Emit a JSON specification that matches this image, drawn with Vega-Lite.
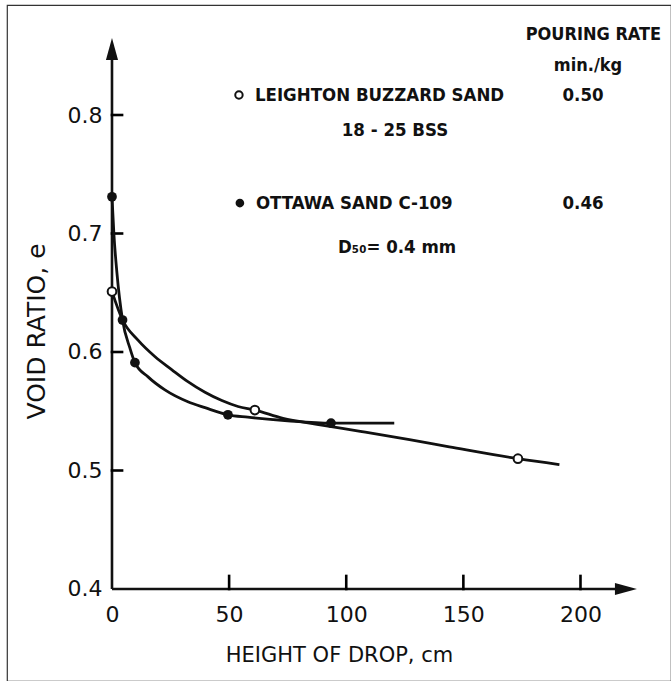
{
  "$schema": "https://vega.github.io/schema/vega-lite/v6.json",
  "width": 664,
  "height": 676,
  "autosize": "none",
  "padding": {"left": 7, "top": 5, "right": 0, "bottom": 0},
  "background": "white",
  "config": {
    "view": {"stroke": "#333333", "strokeWidth": 1.2},
    "font": "DejaVu Sans"
  },
  "datasets": {
    "axes": [
      {"height": 0, "e": 0.4, "height2": 0, "e2": 0.8557},
      {"height": 0, "e": 0.4, "height2": 219.4, "e2": 0.4}
    ],
    "ticks": [
      {"height": 50, "e": 0.4, "height2": 50, "e2": 0.411},
      {"height": 100, "e": 0.4, "height2": 100, "e2": 0.411},
      {"height": 150, "e": 0.4, "height2": 150, "e2": 0.411},
      {"height": 200, "e": 0.4, "height2": 200, "e2": 0.411},
      {"height": 0, "e": 0.5, "height2": 4.3, "e2": 0.5},
      {"height": 0, "e": 0.6, "height2": 4.3, "e2": 0.6},
      {"height": 0, "e": 0.7, "height2": 4.3, "e2": 0.7},
      {"height": 0, "e": 0.8, "height2": 4.3, "e2": 0.8}
    ],
    "arrows": [
      {"height": 0, "e": 0.8557, "dir": "up"},
      {"height": 219.4, "e": 0.4, "dir": "right"}
    ],
    "curves": [
      {"series": "Ottawa", "height": 0, "e": 0.731},
      {"series": "Ottawa", "height": 0.8, "e": 0.7},
      {"series": "Ottawa", "height": 2.1, "e": 0.667},
      {"series": "Ottawa", "height": 4.5, "e": 0.627},
      {"series": "Ottawa", "height": 7.7, "e": 0.603},
      {"series": "Ottawa", "height": 9.8, "e": 0.591},
      {"series": "Ottawa", "height": 15.4, "e": 0.579},
      {"series": "Ottawa", "height": 22.6, "e": 0.568},
      {"series": "Ottawa", "height": 32.4, "e": 0.558},
      {"series": "Ottawa", "height": 39.7, "e": 0.553},
      {"series": "Ottawa", "height": 49.5, "e": 0.547},
      {"series": "Ottawa", "height": 58, "e": 0.545},
      {"series": "Ottawa", "height": 75, "e": 0.542},
      {"series": "Ottawa", "height": 93.5, "e": 0.54},
      {"series": "Ottawa", "height": 120.5, "e": 0.54},
      {"series": "Leighton", "height": 0, "e": 0.651},
      {"series": "Leighton", "height": 4.5, "e": 0.627},
      {"series": "Leighton", "height": 11.1, "e": 0.61},
      {"series": "Leighton", "height": 18.4, "e": 0.596},
      {"series": "Leighton", "height": 25.6, "e": 0.585},
      {"series": "Leighton", "height": 32.4, "e": 0.575},
      {"series": "Leighton", "height": 39.7, "e": 0.566},
      {"series": "Leighton", "height": 46.9, "e": 0.559},
      {"series": "Leighton", "height": 53.8, "e": 0.554},
      {"series": "Leighton", "height": 61, "e": 0.551},
      {"series": "Leighton", "height": 73, "e": 0.544},
      {"series": "Leighton", "height": 87.5, "e": 0.539},
      {"series": "Leighton", "height": 106, "e": 0.533},
      {"series": "Leighton", "height": 127, "e": 0.526},
      {"series": "Leighton", "height": 144, "e": 0.52},
      {"series": "Leighton", "height": 173.3, "e": 0.51},
      {"series": "Leighton", "height": 191, "e": 0.505}
    ],
    "points": [
      {"sand": "Ottawa", "height": 0, "e": 0.731},
      {"sand": "Ottawa", "height": 4.5, "e": 0.627},
      {"sand": "Ottawa", "height": 9.8, "e": 0.591},
      {"sand": "Ottawa", "height": 49.5, "e": 0.547},
      {"sand": "Ottawa", "height": 93.5, "e": 0.54},
      {"sand": "Leighton", "height": 0, "e": 0.651},
      {"sand": "Leighton", "height": 61, "e": 0.551},
      {"sand": "Leighton", "height": 173.3, "e": 0.51}
    ],
    "keys": [
      {"sand": "Leighton", "height": 54.2, "e": 0.8169, "text": "LEIGHTON BUZZARD SAND"},
      {"sand": "Ottawa", "height": 54.6, "e": 0.7257, "text": "OTTAWA SAND C-109"}
    ],
    "heads": [
      {"text": "POURING RATE", "height": 205.5, "e": 0.8675},
      {"text": "min./kg", "height": 203.2, "e": 0.8414}
    ],
    "notes": [
      {"text": "0.50", "height": 201.1, "e": 0.8169},
      {"text": "0.46", "height": 201.1, "e": 0.7257},
      {"text": "18 - 25 BSS", "height": 120.8, "e": 0.7873},
      {"text": "D₅₀= 0.4 mm", "height": 121.7, "e": 0.6885}
    ]
  },
  "encoding": {
    "x": {
      "field": "height",
      "type": "quantitative",
      "scale": {"domain": [-44.82, 238.64], "nice": false, "zero": false},
      "axis": {
        "title": "HEIGHT OF DROP, cm",
        "values": [0, 50, 100, 150, 200],
        "offset": -92,
        "domain": false,
        "grid": false,
        "ticks": false,
        "labelFlush": false,
        "labelPadding": 15,
        "labelFontSize": 22,
        "labelColor": "#111111",
        "titleFontSize": 21,
        "titleFontWeight": "normal",
        "titleColor": "#111111",
        "titlePadding": 19
      }
    },
    "y": {
      "field": "e",
      "type": "quantitative",
      "scale": {"domain": [0.32236, 0.89283], "nice": false, "zero": false},
      "axis": {
        "title": "VOID RATIO, e",
        "values": [0.4, 0.5, 0.6, 0.7, 0.8],
        "format": ".1f",
        "offset": -105,
        "domain": false,
        "grid": false,
        "ticks": false,
        "labelFlush": false,
        "labelPadding": 10,
        "labelFontSize": 22,
        "labelColor": "#111111",
        "titleFontSize": 25,
        "titleFontWeight": "normal",
        "titleColor": "#111111",
        "titlePadding": 18,
        "titleY": 326
      }
    }
  },
  "layer": [
    {
      "data": {"name": "axes"},
      "mark": {"type": "rule", "color": "#111111", "strokeWidth": 2.6},
      "encoding": {
        "x2": {"field": "height2"},
        "y2": {"field": "e2"}
      }
    },
    {
      "data": {"name": "ticks"},
      "mark": {"type": "rule", "color": "#000000", "strokeWidth": 2.6, "strokeCap": "square", "opacity": 1},
      "encoding": {
        "x2": {"field": "height2"},
        "y2": {"field": "e2"}
      }
    },
    {
      "data": {"name": "arrows"},
      "mark": {"type": "point", "filled": true, "color": "#111111", "size": 484, "opacity": 1},
      "encoding": {
        "shape": {
          "field": "dir",
          "scale": {"domain": ["up", "right"], "range": ["M-0.55,1L0,-1L0.55,1Z", "M-1,-0.55L1,0L-1,0.55Z"]},
          "legend": null
        }
      }
    },
    {
      "data": {"name": "curves"},
      "mark": {"type": "line", "interpolate": "monotone", "color": "#111111", "strokeWidth": 2.8},
      "encoding": {
        "detail": {"field": "series"},
        "order": {"field": "height", "type": "quantitative"}
      }
    },
    {
      "data": {"name": "points"},
      "transform": [{"filter": "datum.sand === 'Leighton'"}],
      "mark": {"type": "point", "shape": "circle", "filled": true, "fill": "white", "stroke": "#111111", "strokeWidth": 2, "size": 75, "opacity": 1}
    },
    {
      "data": {"name": "points"},
      "transform": [{"filter": "datum.sand === 'Ottawa'"}],
      "mark": {"type": "circle", "color": "#111111", "size": 95, "opacity": 1}
    },
    {
      "data": {"name": "keys"},
      "transform": [{"filter": "datum.sand === 'Leighton'"}],
      "mark": {"type": "point", "shape": "circle", "filled": true, "fill": "white", "stroke": "#111111", "strokeWidth": 2, "size": 55, "opacity": 1}
    },
    {
      "data": {"name": "keys"},
      "transform": [{"filter": "datum.sand === 'Ottawa'"}],
      "mark": {"type": "circle", "color": "#111111", "size": 75, "opacity": 1}
    },
    {
      "data": {"name": "keys"},
      "mark": {"type": "text", "align": "left", "baseline": "middle", "dx": 16, "font": "DejaVu Sans Condensed", "fontWeight": "bold", "fontSize": 18.5, "color": "#111111"},
      "encoding": {"text": {"field": "text"}}
    },
    {
      "data": {"name": "heads"},
      "mark": {"type": "text", "align": "center", "baseline": "middle", "font": "DejaVu Sans Condensed", "fontWeight": "bold", "fontSize": 18, "color": "#111111"},
      "encoding": {"text": {"field": "text"}}
    },
    {
      "data": {"name": "notes"},
      "mark": {"type": "text", "align": "center", "baseline": "middle", "font": "DejaVu Sans Condensed", "fontWeight": "bold", "fontSize": 18.5, "color": "#111111"},
      "encoding": {"text": {"field": "text"}}
    }
  ]
}
